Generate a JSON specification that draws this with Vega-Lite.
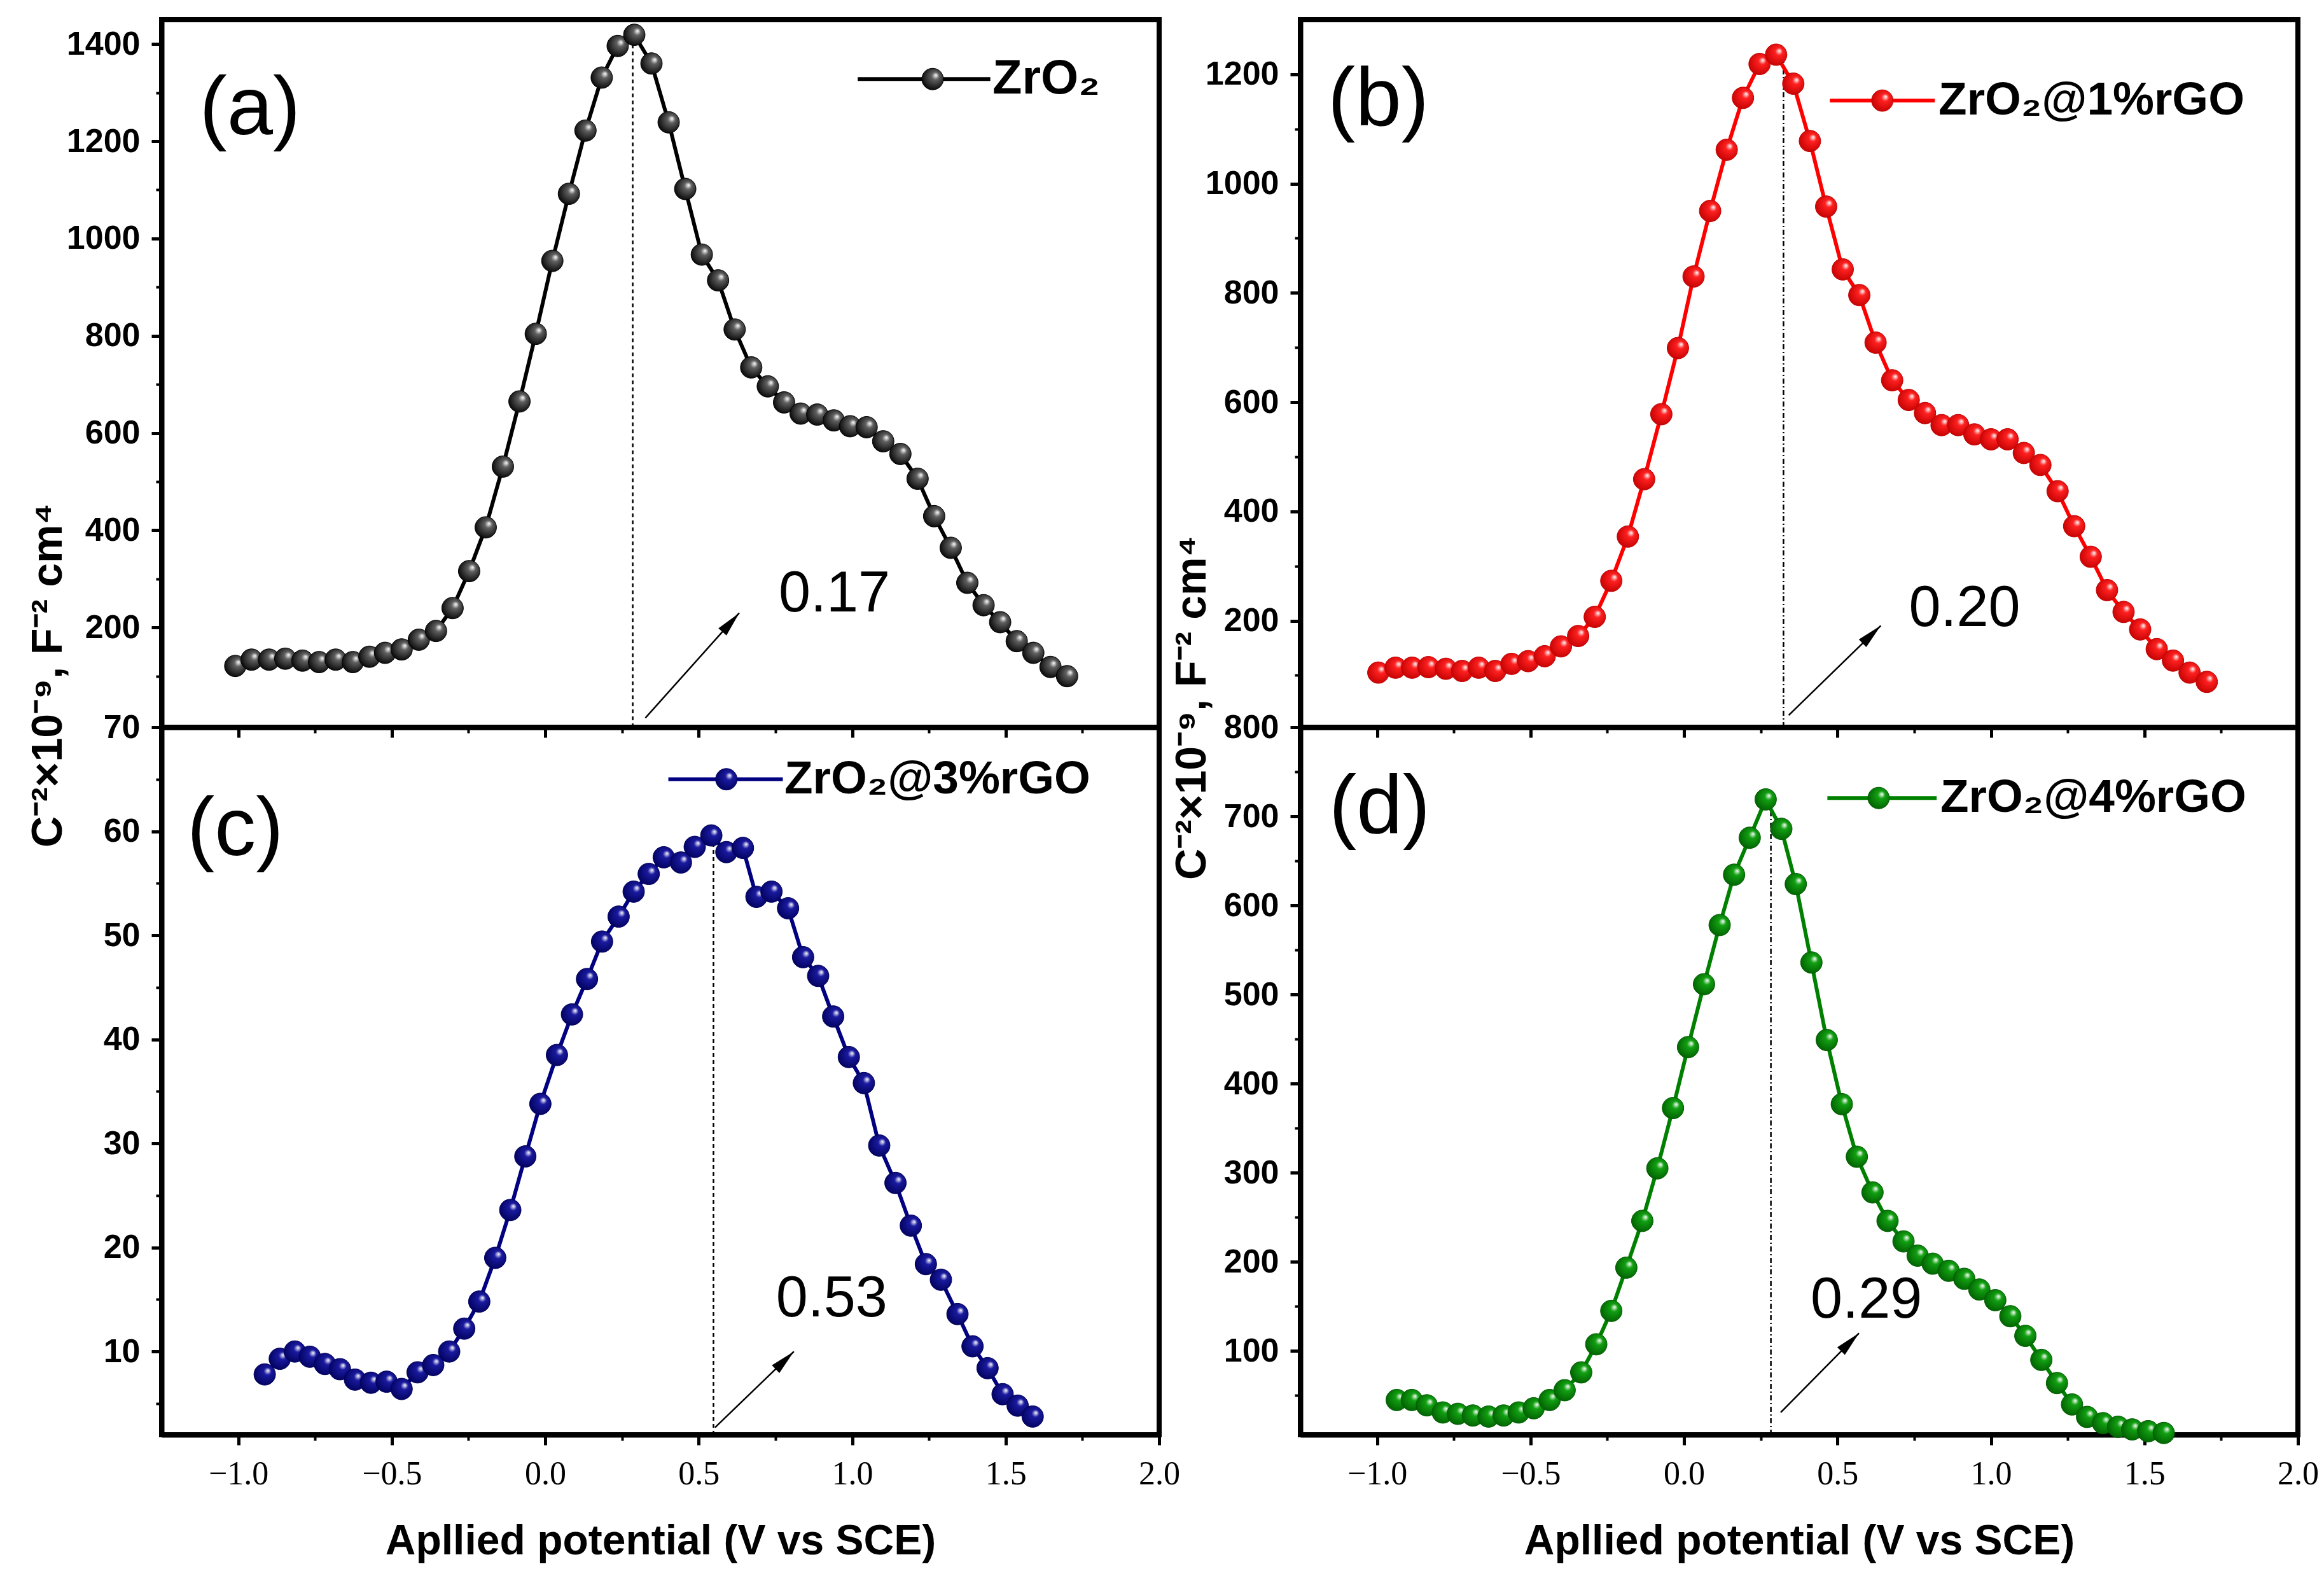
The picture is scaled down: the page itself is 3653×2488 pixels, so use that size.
{
  "$schema": "https://vega.github.io/schema/vega-lite/v6.json",
  "padding": {"left": 38, "top": 27, "right": 5, "bottom": 5},
  "background": "white",
  "config": {
    "view": {"stroke": "black", "strokeWidth": 8},
    "axis": {
      "domainColor": "black", "domainWidth": 8, "tickColor": "black", "tickWidth": 5, "tickSize": 16,
      "grid": false, "labelColor": "black", "titleColor": "black", "labelFlush": false, "labelOverlap": false
    },
    "axisY": {
      "labelFont": "Liberation Sans", "labelFontWeight": "bold", "labelFontSize": 52, "labelPadding": 18,
      "titleFont": "Liberation Sans", "titleFontWeight": "bold", "titleFontSize": 68
    },
    "axisX": {
      "labelFont": "Liberation Serif", "labelFontSize": 52, "labelPadding": 20,
      "titleFont": "Liberation Sans", "titleFontWeight": "bold", "titleFontSize": 66, "titlePadding": 48
    }
  },
  "datasets": {
    "curves": [
      {"p":"a","v":-1.010,"c":121},{"p":"a","v":-0.957,"c":134},{"p":"a","v":-0.900,"c":134},{"p":"a","v":-0.847,"c":136},
      {"p":"a","v":-0.791,"c":132},{"p":"a","v":-0.737,"c":129},{"p":"a","v":-0.683,"c":134},{"p":"a","v":-0.627,"c":129},
      {"p":"a","v":-0.573,"c":140},{"p":"a","v":-0.522,"c":148},{"p":"a","v":-0.468,"c":155},{"p":"a","v":-0.412,"c":175},
      {"p":"a","v":-0.356,"c":193},{"p":"a","v":-0.302,"c":240},{"p":"a","v":-0.248,"c":316},{"p":"a","v":-0.194,"c":406},
      {"p":"a","v":-0.138,"c":531},{"p":"a","v":-0.084,"c":665},{"p":"a","v":-0.031,"c":804},{"p":"a","v":0.023,"c":954},
      {"p":"a","v":0.077,"c":1092},{"p":"a","v":0.131,"c":1222},{"p":"a","v":0.184,"c":1331},{"p":"a","v":0.236,"c":1396},
      {"p":"a","v":0.290,"c":1419},{"p":"a","v":0.346,"c":1360},{"p":"a","v":0.402,"c":1239},{"p":"a","v":0.456,"c":1102},
      {"p":"a","v":0.510,"c":967},{"p":"a","v":0.563,"c":914},{"p":"a","v":0.617,"c":813},{"p":"a","v":0.671,"c":735},
      {"p":"a","v":0.725,"c":696},{"p":"a","v":0.778,"c":663},{"p":"a","v":0.832,"c":640},{"p":"a","v":0.886,"c":638},
      {"p":"a","v":0.940,"c":626},{"p":"a","v":0.993,"c":614},{"p":"a","v":1.047,"c":612},{"p":"a","v":1.101,"c":583},
      {"p":"a","v":1.157,"c":557},{"p":"a","v":1.213,"c":506},{"p":"a","v":1.267,"c":429},{"p":"a","v":1.321,"c":364},
      {"p":"a","v":1.375,"c":292},{"p":"a","v":1.428,"c":246},{"p":"a","v":1.482,"c":211},{"p":"a","v":1.536,"c":172},
      {"p":"a","v":1.590,"c":148},{"p":"a","v":1.646,"c":119},{"p":"a","v":1.700,"c":100},

      {"p":"b","v":-0.996,"c":105},{"p":"b","v":-0.940,"c":114},{"p":"b","v":-0.886,"c":114},{"p":"b","v":-0.833,"c":115},
      {"p":"b","v":-0.776,"c":112},{"p":"b","v":-0.723,"c":108},{"p":"b","v":-0.669,"c":114},{"p":"b","v":-0.615,"c":108},
      {"p":"b","v":-0.562,"c":121},{"p":"b","v":-0.508,"c":126},{"p":"b","v":-0.454,"c":135},{"p":"b","v":-0.401,"c":153},
      {"p":"b","v":-0.345,"c":172},{"p":"b","v":-0.291,"c":207},{"p":"b","v":-0.237,"c":273},{"p":"b","v":-0.183,"c":354},
      {"p":"b","v":-0.130,"c":459},{"p":"b","v":-0.074,"c":578},{"p":"b","v":-0.020,"c":699},{"p":"b","v":0.031,"c":830},
      {"p":"b","v":0.085,"c":950},{"p":"b","v":0.139,"c":1062},{"p":"b","v":0.192,"c":1157},{"p":"b","v":0.246,"c":1219},
      {"p":"b","v":0.300,"c":1236},{"p":"b","v":0.356,"c":1183},{"p":"b","v":0.410,"c":1078},{"p":"b","v":0.463,"c":958},
      {"p":"b","v":0.517,"c":843},{"p":"b","v":0.571,"c":796},{"p":"b","v":0.624,"c":709},{"p":"b","v":0.678,"c":640},
      {"p":"b","v":0.732,"c":604},{"p":"b","v":0.785,"c":580},{"p":"b","v":0.839,"c":558},{"p":"b","v":0.893,"c":558},
      {"p":"b","v":0.946,"c":541},{"p":"b","v":1.000,"c":532},{"p":"b","v":1.054,"c":532},{"p":"b","v":1.107,"c":507},
      {"p":"b","v":1.161,"c":485},{"p":"b","v":1.217,"c":437},{"p":"b","v":1.271,"c":373},{"p":"b","v":1.325,"c":317},
      {"p":"b","v":1.378,"c":256},{"p":"b","v":1.432,"c":216},{"p":"b","v":1.486,"c":184},{"p":"b","v":1.540,"c":148},
      {"p":"b","v":1.593,"c":127},{"p":"b","v":1.647,"c":105},{"p":"b","v":1.703,"c":88},

      {"p":"c","v":-0.914,"c":7.8},{"p":"c","v":-0.865,"c":9.3},{"p":"c","v":-0.816,"c":10.0},{"p":"c","v":-0.767,"c":9.5},
      {"p":"c","v":-0.718,"c":8.8},{"p":"c","v":-0.669,"c":8.3},{"p":"c","v":-0.620,"c":7.3},{"p":"c","v":-0.568,"c":7.0},
      {"p":"c","v":-0.517,"c":7.1},{"p":"c","v":-0.468,"c":6.4},{"p":"c","v":-0.416,"c":8.0},{"p":"c","v":-0.365,"c":8.7},
      {"p":"c","v":-0.313,"c":10.0},{"p":"c","v":-0.264,"c":12.2},{"p":"c","v":-0.215,"c":14.8},{"p":"c","v":-0.163,"c":19.0},
      {"p":"c","v":-0.114,"c":23.6},{"p":"c","v":-0.065,"c":28.75},{"p":"c","v":-0.016,"c":33.8},{"p":"c","v":0.038,"c":38.5},
      {"p":"c","v":0.087,"c":42.4},{"p":"c","v":0.136,"c":45.8},{"p":"c","v":0.185,"c":49.4},{"p":"c","v":0.239,"c":51.8},
      {"p":"c","v":0.288,"c":54.2},{"p":"c","v":0.337,"c":55.9},{"p":"c","v":0.386,"c":57.5},{"p":"c","v":0.442,"c":57.0},
      {"p":"c","v":0.487,"c":58.5},{"p":"c","v":0.541,"c":59.6},{"p":"c","v":0.590,"c":58.0},{"p":"c","v":0.644,"c":58.4},
      {"p":"c","v":0.688,"c":53.7},{"p":"c","v":0.737,"c":54.2},{"p":"c","v":0.791,"c":52.6},{"p":"c","v":0.840,"c":47.9},
      {"p":"c","v":0.889,"c":46.1},{"p":"c","v":0.938,"c":42.2},{"p":"c","v":0.989,"c":38.3},{"p":"c","v":1.038,"c":35.8},
      {"p":"c","v":1.088,"c":29.8},{"p":"c","v":1.141,"c":26.2},{"p":"c","v":1.191,"c":22.1},{"p":"c","v":1.240,"c":18.4},
      {"p":"c","v":1.289,"c":16.9},{"p":"c","v":1.343,"c":13.6},{"p":"c","v":1.392,"c":10.5},{"p":"c","v":1.441,"c":8.4},
      {"p":"c","v":1.490,"c":5.9},{"p":"c","v":1.539,"c":4.8},{"p":"c","v":1.588,"c":3.75},

      {"p":"d","v":-0.936,"c":45},{"p":"d","v":-0.887,"c":45},{"p":"d","v":-0.838,"c":39},{"p":"d","v":-0.786,"c":31},
      {"p":"d","v":-0.737,"c":29.5},{"p":"d","v":-0.688,"c":27.6},{"p":"d","v":-0.637,"c":26.4},{"p":"d","v":-0.588,"c":27.6},
      {"p":"d","v":-0.539,"c":31},{"p":"d","v":-0.490,"c":35.7},{"p":"d","v":-0.438,"c":45},{"p":"d","v":-0.389,"c":56},
      {"p":"d","v":-0.335,"c":76},{"p":"d","v":-0.286,"c":107.5},{"p":"d","v":-0.237,"c":145},{"p":"d","v":-0.188,"c":193.5},
      {"p":"d","v":-0.136,"c":246},{"p":"d","v":-0.087,"c":305},{"p":"d","v":-0.036,"c":372.6},{"p":"d","v":0.013,"c":441},
      {"p":"d","v":0.065,"c":511.6},{"p":"d","v":0.116,"c":578},{"p":"d","v":0.163,"c":634.5},{"p":"d","v":0.214,"c":676},
      {"p":"d","v":0.266,"c":719},{"p":"d","v":0.317,"c":686},{"p":"d","v":0.364,"c":624},{"p":"d","v":0.415,"c":536},
      {"p":"d","v":0.465,"c":449},{"p":"d","v":0.514,"c":377},{"p":"d","v":0.563,"c":318},{"p":"d","v":0.614,"c":278},
      {"p":"d","v":0.663,"c":246},{"p":"d","v":0.715,"c":223},{"p":"d","v":0.761,"c":207},{"p":"d","v":0.810,"c":198},
      {"p":"d","v":0.862,"c":190},{"p":"d","v":0.913,"c":181},{"p":"d","v":0.962,"c":169},{"p":"d","v":1.014,"c":157},
      {"p":"d","v":1.063,"c":139},{"p":"d","v":1.112,"c":117},{"p":"d","v":1.164,"c":90},{"p":"d","v":1.215,"c":64},
      {"p":"d","v":1.264,"c":40},{"p":"d","v":1.313,"c":26},{"p":"d","v":1.365,"c":19},{"p":"d","v":1.414,"c":15},
      {"p":"d","v":1.460,"c":12},{"p":"d","v":1.512,"c":10},{"p":"d","v":1.563,"c":8}
    ],
    "peaks": [
      {"p":"a","v":0.285,"c":-5,"c2":1419},
      {"p":"b","v":0.324,"c":5,"c2":1225},
      {"p":"c","v":0.548,"c":2,"c2":59.6},
      {"p":"d","v":0.283,"c":6,"c2":719}
    ],
    "arrows": [
      {"p":"a","v":0.326,"c":14,"v2":0.632,"c2":230},
      {"p":"b","v":0.341,"c":27,"v2":0.641,"c2":191},
      {"p":"c","v":0.553,"c":2.7,"v2":0.810,"c2":10},
      {"p":"d","v":0.315,"c":31,"v2":0.570,"c2":120}
    ],
    "heads": [
      {"p":"a","v":0.632,"c":230},
      {"p":"b","v":0.641,"c":191},
      {"p":"c","v":0.810,"c":10},
      {"p":"d","v":0.570,"c":120}
    ],
    "notes": [
      {"p":"a","v":0.942,"c":268,"t":"0.17"},
      {"p":"b","v":0.914,"c":222,"t":"0.20"},
      {"p":"c","v":0.933,"c":15.0,"t":"0.53"},
      {"p":"d","v":0.594,"c":157,"t":"0.29"}
    ],
    "tags": [
      {"p":"a","v":-0.962,"c":1265,"t":"(a)"},
      {"p":"b","v":-0.996,"c":1152,"t":"(b)"},
      {"p":"c","v":-1.010,"c":60.1,"t":"(c)"},
      {"p":"d","v":-0.992,"c":709,"t":"(d)"}
    ],
    "keylines": [
      {"p":"a","v":1.018,"v2":1.450,"c":1328},
      {"p":"b","v":0.475,"v2":0.817,"c":1152},
      {"p":"c","v":0.401,"v2":0.774,"c":65.0},
      {"p":"d","v":0.467,"v2":0.823,"c":720.6}
    ],
    "keydots": [
      {"p":"a","v":1.262,"c":1328},
      {"p":"b","v":0.646,"c":1152},
      {"p":"c","v":0.590,"c":65.0},
      {"p":"d","v":0.634,"c":720.6}
    ],
    "keytext": [
      {"p":"a","v":1.457,"c":1328,"t":"ZrO₂"},
      {"p":"b","v":0.829,"c":1152,"t":"ZrO₂@1%rGO"},
      {"p":"c","v":0.779,"c":65.0,"t":"ZrO₂@3%rGO"},
      {"p":"d","v":0.835,"c":720.6,"t":"ZrO₂@4%rGO"}
    ]
  },
  "columns": 2,
  "spacing": {"row": 0, "column": 222},
  "bounds": "flush",
  "concat": [
    {
      "width": 1568, "height": 1112,
      "resolve": {"axis": {"x": "independent", "y": "independent"}},
      "layer": [
        {
          "encoding": {
            "x": {"field": "v", "type": "quantitative", "scale": {"domain": [-1.25, 2], "nice": false, "zero": false},
                  "axis": {"values": [-1, -0.5, 0, 0.5, 1, 1.5, 2], "labels": false, "title": null}},
            "y": {"field": "c", "type": "quantitative", "scale": {"domain": [-5, 1450], "nice": false, "zero": false},
                  "axis": {"values": [200, 400, 600, 800, 1000, 1200, 1400], "format": "d", "title": "C⁻²×10⁻⁹, F⁻² cm⁴",
                           "titleX": -178, "titleY": 1030, "titleAngle": -90, "titleAlign": "center", "titleBaseline": "middle"}}
          },
          "layer": [
            {"data": {"name": "peaks"}, "transform": [{"filter": "datum.p == 'a'"}],
             "mark": {"type": "rule", "color": "black", "strokeWidth": 2.5, "strokeDash": [6, 5]},
             "encoding": {"y2": {"field": "c2"}}},
            {"data": {"name": "curves"}, "transform": [{"filter": "datum.p == 'a'"}],
             "mark": {"type": "line", "color": "#000000", "strokeWidth": 6}},
            {"data": {"name": "curves"}, "transform": [{"filter": "datum.p == 'a'"}],
             "mark": {"type": "point", "filled": true, "size": 1150, "opacity": 1, "stroke": "#000000", "strokeWidth": 1,
                      "fill": {"gradient": "radial", "x1": 0.66, "y1": 0.32, "r1": 0, "x2": 0.55, "y2": 0.45, "r2": 0.62,
                               "stops": [{"offset": 0, "color": "#ffffff"}, {"offset": 0.28, "color": "#606060"}, {"offset": 1, "color": "#000000"}]}}},
            {"data": {"name": "arrows"}, "transform": [{"filter": "datum.p == 'a'"}],
             "mark": {"type": "rule", "color": "black", "strokeWidth": 2.5},
             "encoding": {"x2": {"field": "v2"}, "y2": {"field": "c2"}}},
            {"data": {"name": "heads"}, "transform": [{"filter": "datum.p == 'a'"}],
             "mark": {"type": "point", "shape": "M0,0L0.36,1.7L-0.36,1.7Z", "size": 2200, "angle": 41.6, "filled": true, "color": "black", "opacity": 1}},
            {"data": {"name": "notes"}, "transform": [{"filter": "datum.p == 'a'"}],
             "mark": {"type": "text", "font": "Liberation Sans", "fontSize": 90, "align": "center", "baseline": "middle", "color": "black"},
             "encoding": {"text": {"field": "t"}}},
            {"data": {"name": "tags"}, "transform": [{"filter": "datum.p == 'a'"}],
             "mark": {"type": "text", "font": "Liberation Sans", "fontSize": 130, "align": "center", "baseline": "middle", "color": "black"},
             "encoding": {"text": {"field": "t"}}},
            {"data": {"name": "keylines"}, "transform": [{"filter": "datum.p == 'a'"}],
             "mark": {"type": "rule", "color": "#000000", "strokeWidth": 6},
             "encoding": {"x2": {"field": "v2"}}},
            {"data": {"name": "keydots"}, "transform": [{"filter": "datum.p == 'a'"}],
             "mark": {"type": "point", "filled": true, "size": 1150, "opacity": 1, "stroke": "#000000", "strokeWidth": 1,
                      "fill": {"gradient": "radial", "x1": 0.66, "y1": 0.32, "r1": 0, "x2": 0.55, "y2": 0.45, "r2": 0.62,
                               "stops": [{"offset": 0, "color": "#ffffff"}, {"offset": 0.28, "color": "#606060"}, {"offset": 1, "color": "#000000"}]}}},
            {"data": {"name": "keytext"}, "transform": [{"filter": "datum.p == 'a'"}],
             "mark": {"type": "text", "font": "Liberation Sans", "fontWeight": "bold", "fontSize": 76, "align": "left", "baseline": "middle", "color": "black"},
             "encoding": {"text": {"field": "t"}}}
          ]
        },
        {
          "data": {"name": "peaks"}, "transform": [{"filter": "datum.p == 'a'"}],
          "mark": {"type": "point", "opacity": 0},
          "encoding": {
            "x": {"field": "v", "type": "quantitative", "scale": {"domain": [-1.25, 2], "nice": false, "zero": false},
                  "axis": {"orient": "bottom", "values": [-0.75, -0.25, 0.25, 0.75, 1.25, 1.75], "labels": false, "domain": false, "tickSize": 9, "tickWidth": 4, "title": null}},
            "y": {"field": "c", "type": "quantitative", "scale": {"domain": [-5, 1450], "nice": false, "zero": false},
                  "axis": {"orient": "left", "values": [100, 300, 500, 700, 900, 1100, 1300], "labels": false, "domain": false, "tickSize": 9, "tickWidth": 4, "title": null}}
          }
        }
      ]
    },
    {
      "width": 1568, "height": 1112,
      "resolve": {"axis": {"x": "independent", "y": "independent"}},
      "layer": [
        {
          "encoding": {
            "x": {"field": "v", "type": "quantitative", "scale": {"domain": [-1.25, 2], "nice": false, "zero": false},
                  "axis": {"values": [-1, -0.5, 0, 0.5, 1, 1.5, 2], "labels": false, "title": null}},
            "y": {"field": "c", "type": "quantitative", "scale": {"domain": [5, 1300], "nice": false, "zero": false},
                  "axis": {"values": [200, 400, 600, 800, 1000, 1200], "format": "d", "title": "C⁻²×10⁻⁹, F⁻² cm⁴",
                           "titleX": -170, "titleY": 1081, "titleAngle": -90, "titleAlign": "center", "titleBaseline": "middle"}}
          },
          "layer": [
            {"data": {"name": "peaks"}, "transform": [{"filter": "datum.p == 'b'"}],
             "mark": {"type": "rule", "color": "black", "strokeWidth": 2.5, "strokeDash": [8, 4, 2, 4]},
             "encoding": {"y2": {"field": "c2"}}},
            {"data": {"name": "curves"}, "transform": [{"filter": "datum.p == 'b'"}],
             "mark": {"type": "line", "color": "#ff0000", "strokeWidth": 6}},
            {"data": {"name": "curves"}, "transform": [{"filter": "datum.p == 'b'"}],
             "mark": {"type": "point", "filled": true, "size": 1150, "opacity": 1, "stroke": "#c00000", "strokeWidth": 1,
                      "fill": {"gradient": "radial", "x1": 0.66, "y1": 0.32, "r1": 0, "x2": 0.55, "y2": 0.45, "r2": 0.62,
                               "stops": [{"offset": 0, "color": "#ffffff"}, {"offset": 0.28, "color": "#ff2020"}, {"offset": 1, "color": "#c00000"}]}}},
            {"data": {"name": "arrows"}, "transform": [{"filter": "datum.p == 'b'"}],
             "mark": {"type": "rule", "color": "black", "strokeWidth": 2.5},
             "encoding": {"x2": {"field": "v2"}, "y2": {"field": "c2"}}},
            {"data": {"name": "heads"}, "transform": [{"filter": "datum.p == 'b'"}],
             "mark": {"type": "point", "shape": "M0,0L0.36,1.7L-0.36,1.7Z", "size": 2200, "angle": 46, "filled": true, "color": "black", "opacity": 1}},
            {"data": {"name": "notes"}, "transform": [{"filter": "datum.p == 'b'"}],
             "mark": {"type": "text", "font": "Liberation Sans", "fontSize": 90, "align": "center", "baseline": "middle", "color": "black"},
             "encoding": {"text": {"field": "t"}}},
            {"data": {"name": "tags"}, "transform": [{"filter": "datum.p == 'b'"}],
             "mark": {"type": "text", "font": "Liberation Sans", "fontSize": 130, "align": "center", "baseline": "middle", "color": "black"},
             "encoding": {"text": {"field": "t"}}},
            {"data": {"name": "keylines"}, "transform": [{"filter": "datum.p == 'b'"}],
             "mark": {"type": "rule", "color": "#ff0000", "strokeWidth": 6},
             "encoding": {"x2": {"field": "v2"}}},
            {"data": {"name": "keydots"}, "transform": [{"filter": "datum.p == 'b'"}],
             "mark": {"type": "point", "filled": true, "size": 1150, "opacity": 1, "stroke": "#c00000", "strokeWidth": 1,
                      "fill": {"gradient": "radial", "x1": 0.66, "y1": 0.32, "r1": 0, "x2": 0.55, "y2": 0.45, "r2": 0.62,
                               "stops": [{"offset": 0, "color": "#ffffff"}, {"offset": 0.28, "color": "#ff2020"}, {"offset": 1, "color": "#c00000"}]}}},
            {"data": {"name": "keytext"}, "transform": [{"filter": "datum.p == 'b'"}],
             "mark": {"type": "text", "font": "Liberation Sans", "fontWeight": "bold", "fontSize": 73, "align": "left", "baseline": "middle", "color": "black"},
             "encoding": {"text": {"field": "t"}}}
          ]
        },
        {
          "data": {"name": "peaks"}, "transform": [{"filter": "datum.p == 'b'"}],
          "mark": {"type": "point", "opacity": 0},
          "encoding": {
            "x": {"field": "v", "type": "quantitative", "scale": {"domain": [-1.25, 2], "nice": false, "zero": false},
                  "axis": {"orient": "bottom", "values": [-0.75, -0.25, 0.25, 0.75, 1.25, 1.75], "labels": false, "domain": false, "tickSize": 9, "tickWidth": 4, "title": null}},
            "y": {"field": "c", "type": "quantitative", "scale": {"domain": [5, 1300], "nice": false, "zero": false},
                  "axis": {"orient": "left", "values": [100, 300, 500, 700, 900, 1100], "labels": false, "domain": false, "tickSize": 9, "tickWidth": 4, "title": null}}
          }
        }
      ]
    },
    {
      "width": 1568, "height": 1112,
      "resolve": {"axis": {"x": "independent", "y": "independent"}},
      "layer": [
        {
          "encoding": {
            "x": {"field": "v", "type": "quantitative", "scale": {"domain": [-1.25, 2], "nice": false, "zero": false},
                  "axis": {"values": [-1, -0.5, 0, 0.5, 1, 1.5, 2], "format": ".1f", "title": "Apllied potential (V vs SCE)"}},
            "y": {"field": "c", "type": "quantitative", "scale": {"domain": [2, 70], "nice": false, "zero": false},
                  "axis": {"values": [10, 20, 30, 40, 50, 60, 70], "format": "d", "title": null}}
          },
          "layer": [
            {"data": {"name": "peaks"}, "transform": [{"filter": "datum.p == 'c'"}],
             "mark": {"type": "rule", "color": "black", "strokeWidth": 2.5, "strokeDash": [6, 5]},
             "encoding": {"y2": {"field": "c2"}}},
            {"data": {"name": "curves"}, "transform": [{"filter": "datum.p == 'c'"}],
             "mark": {"type": "line", "color": "#000080", "strokeWidth": 6}},
            {"data": {"name": "curves"}, "transform": [{"filter": "datum.p == 'c'"}],
             "mark": {"type": "point", "filled": true, "size": 1150, "opacity": 1, "stroke": "#00005a", "strokeWidth": 1,
                      "fill": {"gradient": "radial", "x1": 0.66, "y1": 0.32, "r1": 0, "x2": 0.55, "y2": 0.45, "r2": 0.62,
                               "stops": [{"offset": 0, "color": "#ffffff"}, {"offset": 0.28, "color": "#1a1aa0"}, {"offset": 1, "color": "#00005a"}]}}},
            {"data": {"name": "arrows"}, "transform": [{"filter": "datum.p == 'c'"}],
             "mark": {"type": "rule", "color": "black", "strokeWidth": 2.5},
             "encoding": {"x2": {"field": "v2"}, "y2": {"field": "c2"}}},
            {"data": {"name": "heads"}, "transform": [{"filter": "datum.p == 'c'"}],
             "mark": {"type": "point", "shape": "M0,0L0.36,1.7L-0.36,1.7Z", "size": 2200, "angle": 46, "filled": true, "color": "black", "opacity": 1}},
            {"data": {"name": "notes"}, "transform": [{"filter": "datum.p == 'c'"}],
             "mark": {"type": "text", "font": "Liberation Sans", "fontSize": 90, "align": "center", "baseline": "middle", "color": "black"},
             "encoding": {"text": {"field": "t"}}},
            {"data": {"name": "tags"}, "transform": [{"filter": "datum.p == 'c'"}],
             "mark": {"type": "text", "font": "Liberation Sans", "fontSize": 130, "align": "center", "baseline": "middle", "color": "black"},
             "encoding": {"text": {"field": "t"}}},
            {"data": {"name": "keylines"}, "transform": [{"filter": "datum.p == 'c'"}],
             "mark": {"type": "rule", "color": "#000080", "strokeWidth": 6},
             "encoding": {"x2": {"field": "v2"}}},
            {"data": {"name": "keydots"}, "transform": [{"filter": "datum.p == 'c'"}],
             "mark": {"type": "point", "filled": true, "size": 1150, "opacity": 1, "stroke": "#00005a", "strokeWidth": 1,
                      "fill": {"gradient": "radial", "x1": 0.66, "y1": 0.32, "r1": 0, "x2": 0.55, "y2": 0.45, "r2": 0.62,
                               "stops": [{"offset": 0, "color": "#ffffff"}, {"offset": 0.28, "color": "#1a1aa0"}, {"offset": 1, "color": "#00005a"}]}}},
            {"data": {"name": "keytext"}, "transform": [{"filter": "datum.p == 'c'"}],
             "mark": {"type": "text", "font": "Liberation Sans", "fontWeight": "bold", "fontSize": 73, "align": "left", "baseline": "middle", "color": "black"},
             "encoding": {"text": {"field": "t"}}}
          ]
        },
        {
          "data": {"name": "peaks"}, "transform": [{"filter": "datum.p == 'c'"}],
          "mark": {"type": "point", "opacity": 0},
          "encoding": {
            "x": {"field": "v", "type": "quantitative", "scale": {"domain": [-1.25, 2], "nice": false, "zero": false},
                  "axis": {"orient": "bottom", "values": [-0.75, -0.25, 0.25, 0.75, 1.25, 1.75], "labels": false, "domain": false, "tickSize": 9, "tickWidth": 4, "title": null}},
            "y": {"field": "c", "type": "quantitative", "scale": {"domain": [2, 70], "nice": false, "zero": false},
                  "axis": {"orient": "left", "values": [5, 15, 25, 35, 45, 55, 65], "labels": false, "domain": false, "tickSize": 9, "tickWidth": 4, "title": null}}
          }
        }
      ]
    },
    {
      "width": 1568, "height": 1112,
      "resolve": {"axis": {"x": "independent", "y": "independent"}},
      "layer": [
        {
          "encoding": {
            "x": {"field": "v", "type": "quantitative", "scale": {"domain": [-1.25, 2], "nice": false, "zero": false},
                  "axis": {"values": [-1, -0.5, 0, 0.5, 1, 1.5, 2], "format": ".1f", "title": "Apllied potential (V vs SCE)"}},
            "y": {"field": "c", "type": "quantitative", "scale": {"domain": [6, 800], "nice": false, "zero": false},
                  "axis": {"values": [100, 200, 300, 400, 500, 600, 700, 800], "format": "d", "title": null}}
          },
          "layer": [
            {"data": {"name": "peaks"}, "transform": [{"filter": "datum.p == 'd'"}],
             "mark": {"type": "rule", "color": "black", "strokeWidth": 2.5, "strokeDash": [8, 4, 2, 4]},
             "encoding": {"y2": {"field": "c2"}}},
            {"data": {"name": "curves"}, "transform": [{"filter": "datum.p == 'd'"}],
             "mark": {"type": "line", "color": "#008000", "strokeWidth": 6}},
            {"data": {"name": "curves"}, "transform": [{"filter": "datum.p == 'd'"}],
             "mark": {"type": "point", "filled": true, "size": 1150, "opacity": 1, "stroke": "#005c00", "strokeWidth": 1,
                      "fill": {"gradient": "radial", "x1": 0.66, "y1": 0.32, "r1": 0, "x2": 0.55, "y2": 0.45, "r2": 0.62,
                               "stops": [{"offset": 0, "color": "#ffffff"}, {"offset": 0.28, "color": "#12a012"}, {"offset": 1, "color": "#005c00"}]}}},
            {"data": {"name": "arrows"}, "transform": [{"filter": "datum.p == 'd'"}],
             "mark": {"type": "rule", "color": "black", "strokeWidth": 2.5},
             "encoding": {"x2": {"field": "v2"}, "y2": {"field": "c2"}}},
            {"data": {"name": "heads"}, "transform": [{"filter": "datum.p == 'd'"}],
             "mark": {"type": "point", "shape": "M0,0L0.36,1.7L-0.36,1.7Z", "size": 2200, "angle": 45, "filled": true, "color": "black", "opacity": 1}},
            {"data": {"name": "notes"}, "transform": [{"filter": "datum.p == 'd'"}],
             "mark": {"type": "text", "font": "Liberation Sans", "fontSize": 90, "align": "center", "baseline": "middle", "color": "black"},
             "encoding": {"text": {"field": "t"}}},
            {"data": {"name": "tags"}, "transform": [{"filter": "datum.p == 'd'"}],
             "mark": {"type": "text", "font": "Liberation Sans", "fontSize": 130, "align": "center", "baseline": "middle", "color": "black"},
             "encoding": {"text": {"field": "t"}}},
            {"data": {"name": "keylines"}, "transform": [{"filter": "datum.p == 'd'"}],
             "mark": {"type": "rule", "color": "#008000", "strokeWidth": 6},
             "encoding": {"x2": {"field": "v2"}}},
            {"data": {"name": "keydots"}, "transform": [{"filter": "datum.p == 'd'"}],
             "mark": {"type": "point", "filled": true, "size": 1150, "opacity": 1, "stroke": "#005c00", "strokeWidth": 1,
                      "fill": {"gradient": "radial", "x1": 0.66, "y1": 0.32, "r1": 0, "x2": 0.55, "y2": 0.45, "r2": 0.62,
                               "stops": [{"offset": 0, "color": "#ffffff"}, {"offset": 0.28, "color": "#12a012"}, {"offset": 1, "color": "#005c00"}]}}},
            {"data": {"name": "keytext"}, "transform": [{"filter": "datum.p == 'd'"}],
             "mark": {"type": "text", "font": "Liberation Sans", "fontWeight": "bold", "fontSize": 73, "align": "left", "baseline": "middle", "color": "black"},
             "encoding": {"text": {"field": "t"}}}
          ]
        },
        {
          "data": {"name": "peaks"}, "transform": [{"filter": "datum.p == 'd'"}],
          "mark": {"type": "point", "opacity": 0},
          "encoding": {
            "x": {"field": "v", "type": "quantitative", "scale": {"domain": [-1.25, 2], "nice": false, "zero": false},
                  "axis": {"orient": "bottom", "values": [-0.75, -0.25, 0.25, 0.75, 1.25, 1.75], "labels": false, "domain": false, "tickSize": 9, "tickWidth": 4, "title": null}},
            "y": {"field": "c", "type": "quantitative", "scale": {"domain": [6, 800], "nice": false, "zero": false},
                  "axis": {"orient": "left", "values": [50, 150, 250, 350, 450, 550, 650, 750], "labels": false, "domain": false, "tickSize": 9, "tickWidth": 4, "title": null}}
          }
        }
      ]
    }
  ]
}
